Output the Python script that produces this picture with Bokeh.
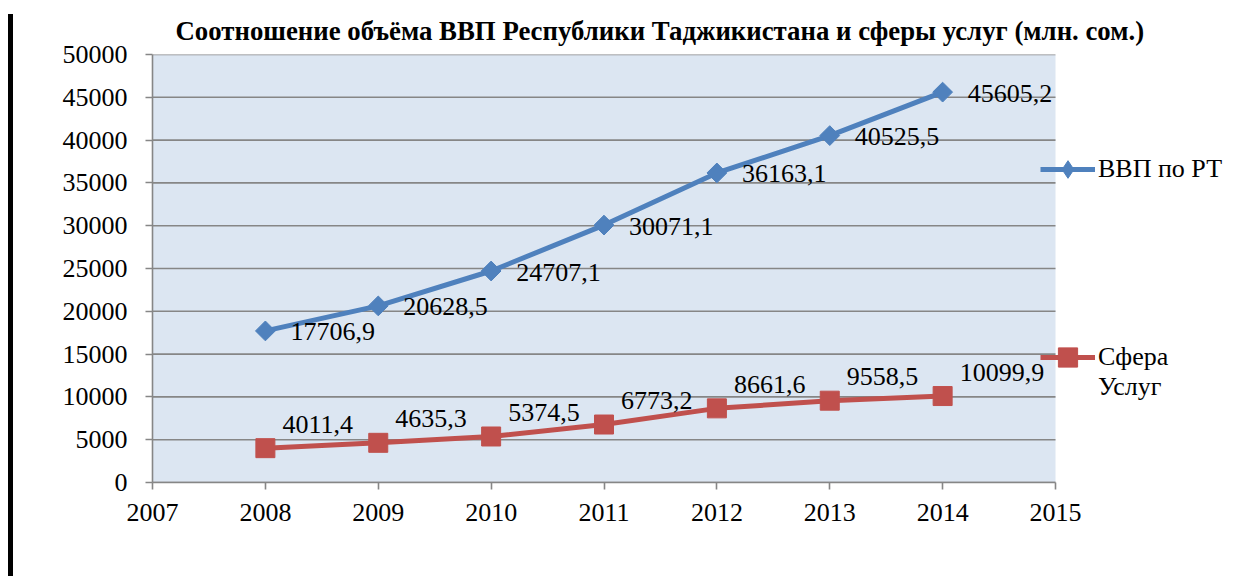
import math
from bokeh.plotting import figure
from bokeh.models import Div, Legend, LegendItem, Range1d, FixedTicker, PrintfTickFormatter
from bokeh.layouts import row
from bokeh.embed import file_html
from bokeh.resources import INLINE
from bokeh.core.properties import value

# ---- data ----
years = [2008, 2009, 2010, 2011, 2012, 2013, 2014]
gdp = [17706.9, 20628.5, 24707.1, 30071.1, 36163.1, 40525.5, 45605.2]
services = [4011.4, 4635.3, 5374.5, 6773.2, 8661.6, 9558.5, 10099.9]
x_ticks = [2007, 2008, 2009, 2010, 2011, 2012, 2013, 2014, 2015]
y_ticks = [0, 5000, 10000, 15000, 20000, 25000, 30000, 35000, 40000, 45000, 50000]
series_names = ["ВВП по РТ", "Сфера\nУслуг"]
title_text = "Соотношение объёма ВВП Республики Таджикистана и сферы услуг (млн. сом.)"

FONT = "Liberation Serif"
BLUE = "#4F81BD"
RED = "#C0504D"
GRID = "#868686"
BG = "#DCE6F2"

# layout (pixels)
FIG_W, FIG_H = 1224, 576
BORDER_L, BORDER_T, BORDER_B = 139, 54, 94
PLOT_W = 903            # width of the shaded plot area
frame_w = FIG_W - BORDER_L
px_per_unit = PLOT_W / (x_ticks[-1] - x_ticks[0])
x_end = x_ticks[0] + frame_w / px_per_unit


def fmt(v):
    return f"{v:.1f}".replace(".", ",")


p = figure(width=FIG_W, height=FIG_H,
           x_range=Range1d(x_ticks[0], x_end),
           y_range=Range1d(y_ticks[0], y_ticks[-1]),
           output_backend="svg", toolbar_location=None,
           min_border_left=BORDER_L, min_border_right=0,
           min_border_top=BORDER_T, min_border_bottom=BORDER_B)

p.title.text = title_text
p.title.text_font = FONT
p.title.text_font_style = "bold"
p.title.text_font_size = "26.8px"
p.title.text_color = "black"
p.title.align = "left"
p.title.offset = 23
p.title.standoff = 18

p.background_fill_color = "white"
p.border_fill_color = "white"
p.outline_line_color = None
p.xgrid.visible = False
p.ygrid.visible = False

# shaded plot area and horizontal gridlines, limited to the axis span
p.quad(left=x_ticks[0], right=x_ticks[-1], bottom=y_ticks[0], top=y_ticks[-1],
       fill_color=BG, line_color=None, level="underlay")
p.segment(x0=x_ticks[0], x1=x_ticks[-1], y0=y_ticks, y1=y_ticks,
          line_color=GRID, line_width=1.6, level="underlay")

p.xaxis.ticker = FixedTicker(ticks=x_ticks)
p.yaxis.ticker = FixedTicker(ticks=y_ticks)
p.xaxis.bounds = (x_ticks[0], x_ticks[-1])
p.xaxis.formatter = PrintfTickFormatter(format="%d")
p.yaxis.formatter = PrintfTickFormatter(format="%d")
for ax in (p.xaxis, p.yaxis):
    ax.axis_line_color = GRID
    ax.axis_line_width = 1.6
    ax.major_tick_line_color = GRID
    ax.major_tick_line_width = 1.6
    ax.major_tick_out = 7
    ax.major_tick_in = 0
    ax.minor_tick_line_color = None
    ax.major_label_text_font = FONT
    ax.major_label_text_font_size = "26px"
    ax.major_label_text_color = "black"
p.xaxis.major_label_standoff = 14
p.yaxis.major_label_standoff = 18

bl = p.line(years, gdp, line_color=BLUE, line_width=5)
# diamond used for the legend key; it sits fully inside the rotated squares below
bm_key = p.scatter(years, gdp, marker="diamond", size=16,
                   fill_color=BLUE, line_color=BLUE)
bm = p.scatter(years, gdp, marker="square", size=14, angle=math.pi / 4,
               fill_color=BLUE, line_color=BLUE)
rl = p.line(years, services, line_color=RED, line_width=5)
rm = p.scatter(years, services, marker="square", size=19,
               fill_color=RED, line_color=RED)

p.text(x=years, y=gdp, text=[fmt(v) for v in gdp], text_font=value(FONT),
       text_font_size="26px", text_color="black", text_align="left",
       text_baseline="middle", x_offset=25, y_offset=1)
p.text(x=years, y=services, text=[fmt(v) for v in services], text_font=value(FONT),
       text_font_size="26px", text_color="black", text_align="left",
       text_baseline="middle", x_offset=17, y_offset=-24)

common = dict(background_fill_alpha=0, border_line_alpha=0, padding=0, margin=0,
              glyph_width=55, label_standoff=3,
              label_text_font=FONT, label_text_font_size="26px",
              label_text_color="black", label_text_baseline="middle")
leg1 = Legend(items=[LegendItem(label=series_names[0], renderers=[bl, bm_key])],
              location=(888, 291), glyph_height=44, **common)
# leading empty line keeps the key level with the first line of the label
leg2 = Legend(items=[LegendItem(label="\n" + series_names[1], renderers=[rl, rm])],
              location=(888, 80), glyph_height=48, **common)
p.add_layout(leg1)
p.add_layout(leg2)

bar = Div(text="", width=5, height=562, margin=(14, 0, 0, 8),
          styles={"background-color": "black"})

layout = row(bar, p)
open("out.html", "w").write(file_html(layout, INLINE))
